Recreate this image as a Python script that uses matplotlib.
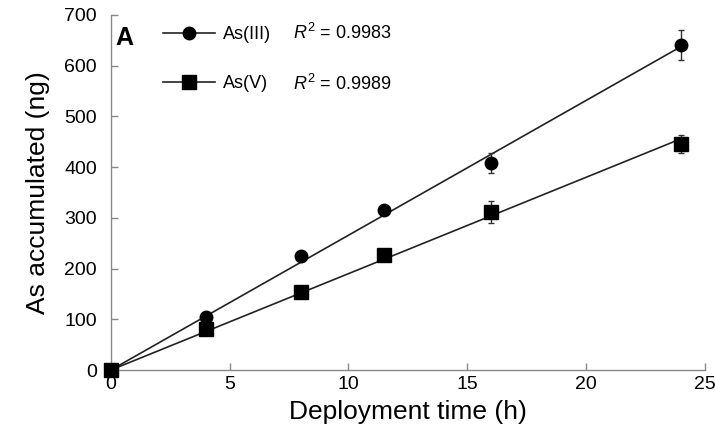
import matplotlib.pyplot as plt
import numpy as np

plt.rcParams['font.family'] = ['Liberation Sans', 'DejaVu Sans']
plt.rcParams['mathtext.fontset'] = 'custom'
plt.rcParams['mathtext.rm'] = 'Liberation Sans'
plt.rcParams['mathtext.it'] = 'Liberation Sans:italic'

# data
time_h = [0, 4, 8, 11.5, 16, 24]
as3_ng = [0, 104, 224, 316, 408, 641]
as3_err = [0, 0, 0, 0, 20, 30]
as5_ng = [0, 80, 154, 227, 311, 446]
as5_err = [0, 0, 0, 0, 22, 18]
r2_labels = ['0.9983', '0.9989']
series_names = ['As(III)', 'As(V)']

fig = plt.figure(figsize=(7.15, 4.4), dpi=100)
ax = fig.add_axes([0.155, 0.159, 0.831, 0.807])

x = np.array(time_h)
handles = []
for y, err, mk, ms, name in [(as3_ng, as3_err, 'o', 9, series_names[0]),
                             (as5_ng, as5_err, 's', 9.5, series_names[1])]:
    y = np.array(y)
    # linear fit through the origin
    slope = np.sum(x * y) / np.sum(x * x)
    xf = np.array([0, x.max()])
    ax.plot(xf, slope * xf, color='#222222', lw=1.2, zorder=2)
    ax.errorbar(x, y, yerr=err, fmt='none', ecolor='#333333', elinewidth=1,
                capsize=2.5, capthick=1, zorder=3)
    ax.plot(x, y, linestyle='none', marker=mk, ms=ms, color='black',
            zorder=4, clip_on=False)
    h, = ax.plot([], [], color='#222222', lw=1.2, marker=mk, ms=ms,
                 markerfacecolor='black', markeredgecolor='black')
    handles.append(h)

leg = ax.legend(handles, series_names, loc='upper left',
                bbox_to_anchor=(0.088, 0.968), frameon=False, fontsize=13,
                handlelength=2.9, labelspacing=1.75, borderpad=0,
                borderaxespad=0, handletextpad=0.4)

for i, r2 in enumerate(r2_labels):
    ax.text(0.306, 0.949 - i * 0.144, r'$\it{R}^2$ = ' + r2,
            transform=ax.transAxes, fontsize=13, va='center', ha='left')

ax.text(0.008, 0.935, 'A', transform=ax.transAxes, fontsize=18,
        fontweight='bold', va='center', ha='left')

ax.set_xlim(0, 25)
ax.set_ylim(0, 700)
ax.set_xticks(np.arange(0, 26, 5))
ax.set_yticks(np.arange(0, 701, 100))
ax.set_xlabel('Deployment time (h)', fontsize=19, labelpad=5)
ax.set_ylabel('As accumulated (ng)', fontsize=19, labelpad=10)

for s in ['top', 'right']:
    ax.spines[s].set_visible(False)
for s in ['left', 'bottom']:
    ax.spines[s].set_color('#888888')
    ax.spines[s].set_linewidth(1)
ax.tick_params(direction='in', length=5, width=1, color='#888888',
               labelsize=14, pad=4)
ax.tick_params(axis='y', pad=10)

fig.savefig('out.png', dpi=100)
